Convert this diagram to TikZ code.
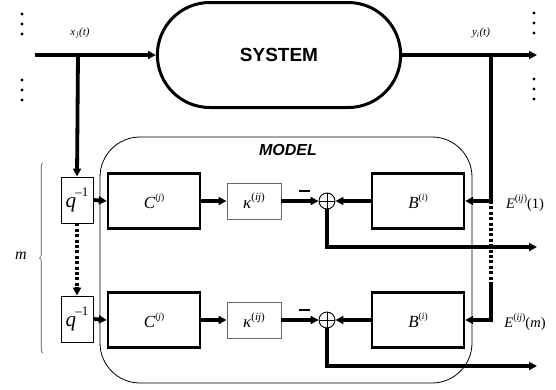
\documentclass[tikz,border=0pt]{standalone}
\usepackage{fontspec}
\setmainfont{Liberation Serif}
\setsansfont{Liberation Sans}
\usetikzlibrary{arrows.meta,shapes.misc,decorations.pathreplacing}

\begin{document}
\begin{tikzpicture}[x=1pt,y=-1pt,
  >={Triangle[length=8pt,width=8pt]},
  sig/.style={line width=3.8pt},
  dotline/.style={line width=3.6pt,dash pattern=on 3pt off 2.4pt},
  thickbox/.style={draw,line width=2.4pt,minimum width=92pt,minimum height=55pt,inner sep=0pt,
    font=\fontsize{17}{17}\selectfont},
  qbox/.style={draw,line width=0.9pt,minimum width=32pt,minimum height=46pt,inner sep=0pt,
    font=\fontsize{21}{21}\selectfont},
  kbox/.style={draw=black!60,line width=0.9pt,minimum width=54pt,minimum height=36pt,inner sep=0pt,
    font=\fontsize{17}{17}\selectfont},
  sumnode/.style={draw,circle,line width=0.9pt,minimum size=16pt,inner sep=0pt},
  sigsign/.style={font=\fontsize{11}{11}\selectfont\itshape},
  elabel/.style={font=\fontsize{14.5}{14.5}\selectfont},
  dot/.style={circle,fill,inner sep=0pt,minimum size=3.2pt}
]
\useasboundingbox (0,0) rectangle (556,389);

% plant and model enclosures
\node[rounded rectangle,draw,line width=3pt,minimum width=250pt,minimum height=105pt,
  font=\sffamily\bfseries\fontsize{19}{19}\selectfont] (sys) at (279,55) {SYSTEM};
\node[draw,line width=0.8pt,rounded corners=40pt,minimum width=372pt,minimum height=246pt] (model) at (286,260) {};
\node[font=\sffamily\bfseries\itshape\fontsize{16}{16}\selectfont] (modeltitle) at (288,150) {MODEL};

% signal labels
\node[sigsign] (xlab) at (80,33) {x\textsubscript{\,j}(t)};
\node[sigsign] (ylab) at (481,33) {y\textsubscript{i}(t)};

% ellipsis dots on the input and output sides
\foreach \yy [count=\k] in {14,24,34,80,90,100} {
  \node[dot] (ldot\k) at (22,\yy) {};
  \node[dot] (rdot\k) at (534,\yy-1) {};
}

% two rows of the model
\foreach \r/\yy/\lab in {1/201/1, 2/320/\textit{m}} {
  \node[qbox] (q\r) at (77,\yy-1) {\itshape q\raisebox{0.5em}{\fontsize{13}{13}\selectfont\upshape\kern-0.05em{\char"2013}1}};
  \node[thickbox] (C\r) at (154,\yy) {\textit{C}\raisebox{0.45em}{\fontsize{9.5}{9.5}\selectfont(\textit{j})}};
  \node[kbox] (k\r) at (254,\yy) {\textit{κ}\raisebox{0.45em}{\fontsize{11}{11}\selectfont(\textit{ij})}};
  \node[sumnode] (s\r) at (327,\yy) {};
  \draw[line width=0.9pt] (s\r.north) -- (s\r.south) (s\r.west) -- (s\r.east);
  \node[thickbox] (B\r) at (418,\yy) {\textit{B}\raisebox{0.45em}{\fontsize{9.5}{9.5}\selectfont(\textit{i})}};
  \node (minus\r) at (304.5,\yy-10) {\rule{11pt}{2.6pt}};
  \coordinate (e\r) at (537,\yy+46);
  \node[elabel] (elab\r) at (525,\yy+2) {\textit{E}\raisebox{0.45em}{\fontsize{10}{10}\selectfont(\textit{ij})}(\lab)};
  \draw[sig,->] (q\r.east) -- (C\r.west);
  \draw[sig,->] (C\r.east) -- (k\r.west);
  \draw[sig,->] (k\r.east) -- (s\r.west);
  \draw[sig,->] (B\r.west) -- (s\r.east);
  \draw[sig,->] (s\r.south) |- (e\r);
}

% input and output signals
\coordinate (xin) at (35,55);
\coordinate (xtap) at (78,55);
\coordinate (yout) at (537,55);
\coordinate (ytap) at (491,55);
\coordinate (ybend) at (491,201);
\coordinate (ydotend) at (491,283);
\draw[sig,->] (xin) -- (sys.west);
\draw[sig,->] (xtap) -- (q1.north);
\draw[sig,->] (sys.east) -- (yout);
\draw[sig,->] (ytap) |- (B1.east);
\draw[dotline] (ybend) -- (ydotend);
\draw[sig,->] (ydotend) |- (B2.east);

% delay chain between the rows
\draw[dotline] (q1.south) -- ([yshift=9pt]q2.north);
\draw[sig,->] ([yshift=9pt]q2.north) -- (q2.north);

% brace over the m rows
\draw[black!70,line width=0.6pt,decorate,decoration={brace,amplitude=3.5pt}] (43,353) -- (43,163);
\node[font=\fontsize{16}{16}\selectfont\itshape] (mlab) at (21,256) {m};
\end{tikzpicture}
\end{document}
